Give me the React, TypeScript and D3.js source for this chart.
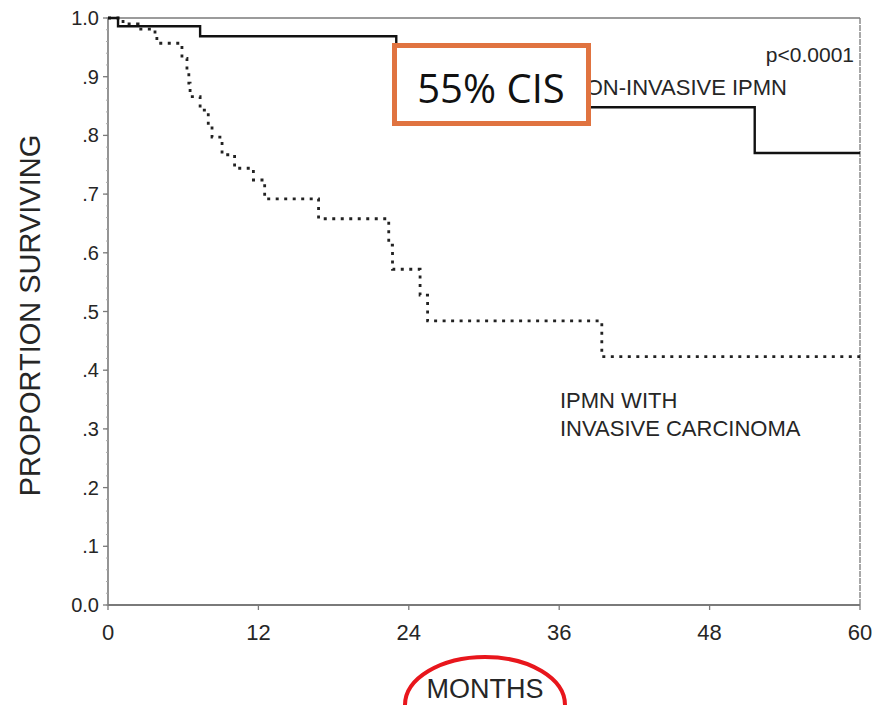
import React from "react";
import * as d3 from "d3";

const xTicks = [0, 12, 24, 36, 48, 60];
const yTicks = [0, 0.1, 0.2, 0.3, 0.4, 0.5, 0.6, 0.7, 0.8, 0.9, 1.0];
const yTickLabels = ["0.0", ".1", ".2", ".3", ".4", ".5", ".6", ".7", ".8", ".9", "1.0"];

const nonInvasiveTimes = [0, 0.8, 7.35, 23.0, 51.6, 60];
const nonInvasiveSurv = [1.0, 0.986, 0.969, 0.848, 0.77, 0.77];

const invasiveTimes = [0, 1.2, 2.4, 3.75, 3.9, 5.9, 6.3, 6.45, 6.55, 7.35, 8.0, 8.3, 9.1, 10.1, 11.6, 12.5, 16.8, 22.4, 22.7, 24.9, 25.5, 39.4, 60];
const invasiveSurv = [1.0, 0.99, 0.981, 0.976, 0.957, 0.931, 0.911, 0.889, 0.866, 0.843, 0.818, 0.797, 0.767, 0.744, 0.724, 0.692, 0.658, 0.613, 0.572, 0.528, 0.484, 0.423, 0.423];

export default function App() {
  const W = 877, H = 705;
  const x = d3.scaleLinear().domain([0, 60]).range([108, 860]);
  const y = d3.scaleLinear().domain([0, 1]).range([605, 18]);
  const line = d3.line<[number, number]>().x(d => x(d[0])).y(d => y(d[1])).curve(d3.curveStepAfter);
  const nonPts = nonInvasiveTimes.map((t, i) => [t, nonInvasiveSurv[i]] as [number, number]);
  const invPts = invasiveTimes.map((t, i) => [t, invasiveSurv[i]] as [number, number]);
  const minor = d3.range(0, 1.0001, 0.02);
  const font = "'Liberation Sans', Arial, sans-serif";
  const axisCol = "#7a7a7a";
  const textCol = "#262626";
  return (
    <svg width={W} height={H} style={{ position: "absolute", left: 0, top: 0, background: "#fff" }}>
      <rect x={0} y={0} width={W} height={H} fill="#fff" />
      {/* frame */}
      <line x1={x(0)} x2={x(60)} y1={y(1)} y2={y(1)} stroke={axisCol} strokeWidth={1.5} />
      <line x1={x(60)} x2={x(60)} y1={y(1)} y2={y(0)} stroke={axisCol} strokeWidth={1.3} strokeDasharray="6,1" />
      <line x1={x(0)} x2={x(0)} y1={y(1)} y2={y(0)} stroke={axisCol} strokeWidth={1.6} />
      <line x1={x(0)} x2={x(60)} y1={y(0)} y2={y(0)} stroke={axisCol} strokeWidth={1.8} />
      {minor.map((v, i) => (
        <line key={"m" + i} x1={x(0) - 2} x2={x(0)} y1={y(v)} y2={y(v)} stroke="#aaa" strokeWidth={1} />
      ))}
      {yTicks.map((v, i) => (
        <g key={"y" + i}>
          <line x1={x(0) - 5} x2={x(0)} y1={y(v)} y2={y(v)} stroke={axisCol} strokeWidth={1.3} />
          <text x={99} y={y(v)} dy="0.35em" textAnchor="end" fontFamily={font} fontSize={20} fill={textCol}>
            {yTickLabels[i]}
          </text>
        </g>
      ))}
      {xTicks.map((v, i) => (
        <g key={"x" + i}>
          <line x1={x(v)} x2={x(v)} y1={y(0)} y2={y(0) + 5} stroke={axisCol} strokeWidth={1.3} />
          <text x={x(v)} y={640} textAnchor="middle" fontFamily={font} fontSize={22} fill={textCol}>
            {v}
          </text>
        </g>
      ))}
      {/* curves */}
      <path d={line(invPts) || ""} fill="none" stroke="#222" strokeWidth={2.8} strokeDasharray="3,5.5" />
      <path d={line(nonPts) || ""} fill="none" stroke="#111" strokeWidth={2.4} />
      {/* labels */}
      <text x={854} y={62} textAnchor="end" fontFamily={font} fontSize={21} fill={textCol}>p&lt;0.0001</text>
      <text x={787} y={95} textAnchor="end" fontFamily={font} fontSize={22} fill={textCol}>NON-INVASIVE IPMN</text>
      <text x={560} y={408} fontFamily={font} fontSize={22} fill={textCol}>IPMN WITH</text>
      <text x={560} y={436} fontFamily={font} fontSize={22} fill={textCol}>INVASIVE CARCINOMA</text>
      <text transform={`translate(40,${(y(0) + y(1)) / 2 + 4}) rotate(-90)`} textAnchor="middle" fontFamily={font} fontSize={29} fill={textCol}>
        PROPORTION SURVIVING
      </text>
      <text x={485} y={698} textAnchor="middle" fontFamily={font} fontSize={27} fill={textCol}>MONTHS</text>
      {/* annotations */}
      <ellipse cx={485} cy={705} rx={80} ry={48} fill="none" stroke="#e8161c" strokeWidth={4} />
      <rect x={394.5} y={45.5} width={194} height={78} fill="#fff" stroke="#e07340" strokeWidth={5} />
      <text x={491} y={103} textAnchor="middle" fontFamily="'Open Sans', 'Noto Sans', sans-serif" fontSize={40} fill="#111">55% CIS</text>
    </svg>
  );
}
